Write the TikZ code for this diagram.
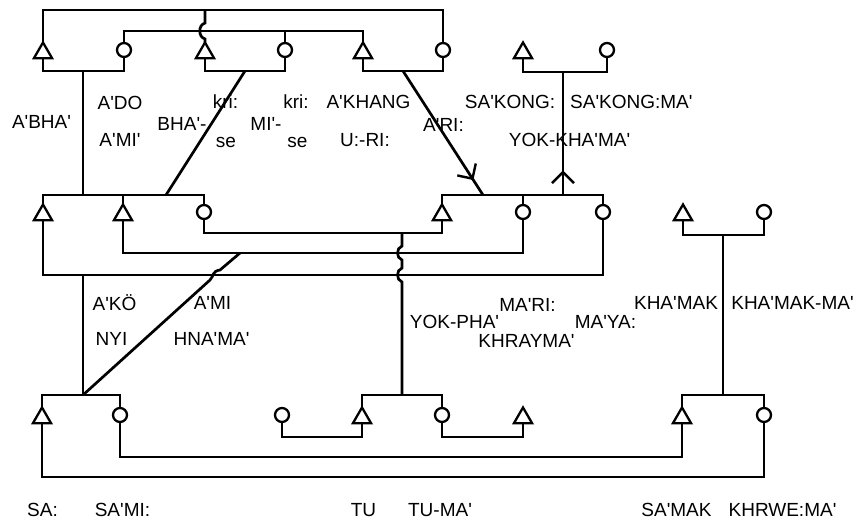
\documentclass[tikz,border=0pt]{standalone}
\usepackage{fontspec}
\newfontfamily\labfont{Liberation Sans}
\usetikzlibrary{shapes.geometric,arrows.meta,decorations.markings}
\begin{document}
\begin{tikzpicture}[x=1pt,y=-1pt,
  ln/.style={line width=2.7pt},
  tri/.style={regular polygon, regular polygon sides=3, draw, line width=2.3pt, minimum size=21pt, inner sep=0pt, outer sep=0pt},
  circ/.style={circle, draw, line width=2.3pt, minimum size=14pt, inner sep=0pt, outer sep=0pt},
  lab/.style={font=\labfont\fontsize{19}{21}\selectfont, inner sep=0pt},
  midarrow/.style={postaction={decorate}, decoration={markings, mark=at position #1 with {\arrow{Straight Barb[length=11pt,width=22pt,line width=2.4pt]}}}},
]
\useasboundingbox (0,0) rectangle (861,530);

% levels
\coordinate (h10) at (0,10);
\coordinate (h31) at (0,31);
\coordinate (h71) at (0,71);
\coordinate (h72) at (0,72);
\coordinate (h195) at (0,195);
\coordinate (h233) at (0,233);
\coordinate (h235) at (0,235);
\coordinate (h253) at (0,253);
\coordinate (h275) at (0,275);
\coordinate (h395) at (0,395);
\coordinate (h437) at (0,437);
\coordinate (h457) at (0,457);
\coordinate (h477) at (0,477);

% top row
\node[tri] (tA) at (43,53) {};
\node[circ] (cA) at (124,50) {};
\node[tri] (tB) at (205,53) {};
\node[circ] (cB) at (285,50) {};
\node[tri] (tC) at (363,53) {};
\node[circ] (cC) at (443,50) {};
\node[tri] (tD) at (523,53) {};
\node[circ] (cD) at (607,50) {};
% middle row
\node[tri] (tE) at (43,215) {};
\node[tri] (tF) at (123,215) {};
\node[circ] (cE) at (204,212) {};
\node[tri] (tG) at (442,215) {};
\node[circ] (cF) at (523,212) {};
\node[circ] (cG) at (603,212) {};
\node[tri] (tH) at (683,215) {};
\node[circ] (cH) at (764,212) {};
% bottom row
\node[tri] (tI) at (42,418) {};
\node[circ] (cI) at (120,415) {};
\node[circ] (cJ) at (282,415) {};
\node[tri] (tJ) at (362,418) {};
\node[circ] (cK) at (442,415) {};
\node[tri] (tK) at (523,418) {};
\node[tri] (tL) at (682,418) {};
\node[circ] (cL) at (764,415) {};

% junctions
\coordinate (jA) at (83,71);
\coordinate (jB) at (245,71);
\coordinate (jC) at (403,71);
\coordinate (jD) at (563,72);
\coordinate (kE) at (83,195);
\coordinate (kE2) at (166,195);
\coordinate (kG) at (483,195);
\coordinate (kG2) at (563,195);
\coordinate (mE) at (83,275);
\coordinate (mF) at (240,253);
\coordinate (mG) at (402,233);
\coordinate (mH) at (723,235);
\coordinate (bI) at (83,395);
\coordinate (bJ) at (402,395);
\coordinate (bL) at (723,395);

% top sibling lines
\draw[ln] (tA.north) -- (tA.north |- h10) -- (cC.north |- h10) -- (cC.north);
\draw[ln] (tB.north |- h10) -- (205,23) .. controls (198,25) and (198,37) .. (205,39) -- (tB.north);
\draw[ln] (cA.north) -- (cA.north |- h31) -- (tC.north |- h31) -- (tC.north);
\draw[ln] (cB.north) -- (cB.north |- h31);
% top couples
\draw[ln] (tA.south) -- (tA.south |- h71) -- (cA.south |- h71) -- (cA.south);
\draw[ln] (tB.south) -- (tB.south |- h71) -- (cB.south |- h71) -- (cB.south);
\draw[ln] (tC.south) -- (tC.south |- h71) -- (cC.south |- h71) -- (cC.south);
\draw[ln] (tD.south) -- (tD.south |- h72) -- (cD.south |- h72) -- (cD.south);
% descents top -> middle
\draw[ln] (jA) -- (kE);
\draw[ln] (jB) -- (kE2);
\draw[ln, midarrow=0.88] (jC) -- (kG);
\draw[ln, midarrow=0.2] (kG2) -- (jD);

% middle sibling lines
\draw[ln] (tE.north) -- (tE.north |- h195) -- (cE.north |- h195) -- (cE.north);
\draw[ln] (tF.north) -- (tF.north |- h195);
\draw[ln] (tG.north) -- (tG.north |- h195) -- (cG.north |- h195) -- (cG.north);
\draw[ln] (cF.north) -- (cF.north |- h195);
% middle marriages
\draw[ln] (tE.south) -- (tE.south |- h275) -- (cG.south |- h275) -- (cG.south);
\draw[ln] (tF.south) -- (tF.south |- h253) -- (cF.south |- h253) -- (cF.south);
\draw[ln] (cE.south) -- (cE.south |- h233) -- (tG.south |- h233) -- (tG.south);
\draw[ln] (tH.south) -- (tH.south |- h235) -- (cH.south |- h235) -- (cH.south);
% descents middle -> bottom
\draw[ln] (mE) -- (bI);
\draw[ln] (bI) -- (210,280) .. controls (214,276) and (212,271) .. (220,270) -- (mF);
\draw[ln] (mG) -- (402,246) .. controls (396,248) and (396,258) .. (402,260) -- (402,268) .. controls (396,270) and (396,280) .. (402,282) -- (bJ);
\draw[ln] (mH) -- (bL);

% bottom sibling lines
\draw[ln] (tI.north) -- (tI.north |- h395) -- (cI.north |- h395) -- (cI.north);
\draw[ln] (tJ.north) -- (tJ.north |- h395) -- (cK.north |- h395) -- (cK.north);
\draw[ln] (tL.north) -- (tL.north |- h395) -- (cL.north |- h395) -- (cL.north);
% bottom marriages
\draw[ln] (cJ.south) -- (cJ.south |- h437) -- (tJ.south |- h437) -- (tJ.south);
\draw[ln] (cK.south) -- (cK.south |- h437) -- (tK.south |- h437) -- (tK.south);
\draw[ln] (cI.south) -- (cI.south |- h457) -- (tL.south |- h457) -- (tL.south);
\draw[ln] (tI.south) -- (tI.south |- h477) -- (cL.south |- h477) -- (cL.south);

% labels
\node[lab] (l1) at (41.5,122) {A'BHA'};
\node[lab] (l2) at (120,103) {A'DO};
\node[lab] (l3) at (120,140) {A'MI'};
\node[lab] (l4) at (182,124) {BHA'-};
\node[lab] (l5) at (225.5,102) {kri:};
\node[lab] (l6) at (226,142) {se};
\node[lab] (l7) at (266,124) {MI'-};
\node[lab] (l8) at (296,102) {kri:};
\node[lab] (l9) at (297.5,142) {se};
\node[lab] (l10) at (368.5,102) {A'KHANG};
\node[lab] (l11) at (365,140) {U:-RI:};
\node[lab] (l12) at (443.5,125) {A'RI:};
\node[lab] (l13) at (510,102) {SA'KONG:};
\node[lab, anchor=west] (l14) at (570,102) {SA'KONG:MA'};
\node[lab] (l15) at (569.5,140) {YOK-KHA'MA'};
\node[lab] (l16) at (114.5,303) {A'KÖ};
\node[lab] (l17) at (111.5,339) {NYI};
\node[lab] (l18) at (212.5,303) {A'MI};
\node[lab] (l19) at (211.5,339) {HNA'MA'};
\node[lab] (l20) at (454.5,322) {YOK-PHA'};
\node[lab] (l21) at (527.5,305) {MA'RI:};
\node[lab] (l22) at (526.5,341) {KHRAYMA'};
\node[lab] (l23) at (605.5,322) {MA'YA:};
\node[lab] (l24) at (676,303) {KHA'MAK};
\node[lab] (l25) at (792.5,303) {KHA'MAK-MA'};
\node[lab] (l26) at (42.5,510) {SA:};
\node[lab] (l27) at (122.5,510) {SA'MI:};
\node[lab] (l28) at (363.5,510) {TU};
\node[lab] (l29) at (440,510) {TU-MA'};
\node[lab] (l30) at (676.5,510) {SA'MAK};
\node[lab] (l31) at (782.5,510) {KHRWE:MA'};
\end{tikzpicture}
\end{document}
